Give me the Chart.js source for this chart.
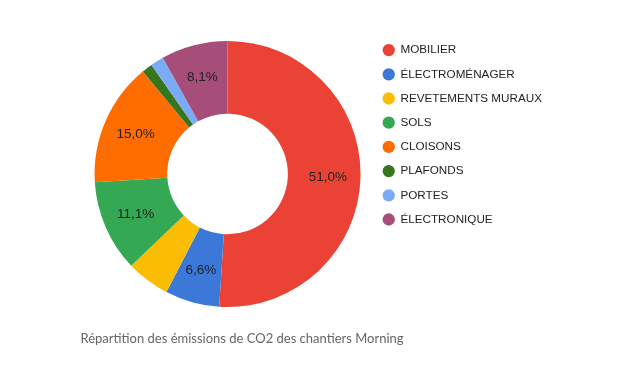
<!DOCTYPE html>
<html>
<head>
<meta charset="utf-8">
<script src="https://cdn.jsdelivr.net/npm/chart.js@4/dist/chart.umd.min.js"></script>
<style>
html, body { margin: 0; padding: 0; background: #fff; }
#wrap { position: relative; width: 628px; height: 368px; }
#chartTitle {
  position: absolute; left: 80.5px; top: 330px;
  font: 13px/16px Lato, sans-serif; color: #666; white-space: nowrap;
}
</style>
</head>
<body>
<div id="wrap">
  <canvas id="co2Chart" width="628" height="368"></canvas>
  <div id="chartTitle"></div>
</div>
<script>
const categories = ["MOBILIER", "ÉLECTROMÉNAGER", "REVETEMENTS MURAUX", "SOLS", "CLOISONS", "PLAFONDS", "PORTES", "ÉLECTRONIQUE"];
const shares = [51.0, 6.6, 5.3, 11.1, 15.0, 1.3, 1.6, 8.1];
const sliceColors = ["#ea4335", "#3c78d8", "#fbbc04", "#34a853", "#ff6d01", "#38761d", "#7baaf7", "#a64d79"];
const chartTitle = "Répartition des émissions de CO2 des chantiers Morning";

document.getElementById("chartTitle").textContent = chartTitle;

// percent text inside the bigger slices only
const sliceLabels = {
  id: "sliceLabels",
  afterDatasetsDraw(chart) {
    const ctx = chart.ctx;
    const meta = chart.getDatasetMeta(0);
    ctx.save();
    ctx.font = "13.5px 'Liberation Sans', Arial, sans-serif";
    ctx.fillStyle = "#222";
    ctx.textAlign = "center";
    ctx.textBaseline = "middle";
    meta.data.forEach((arc, i) => {
      const v = shares[i];
      if (v < 6) return;
      const a = arc.getProps(["x", "y", "startAngle", "endAngle", "innerRadius", "outerRadius"]);
      const mid = (a.startAngle + a.endAngle) / 2;
      const r = a.innerRadius + (a.outerRadius - a.innerRadius) * 0.55;
      ctx.fillText(v.toFixed(1).replace(".", ",") + "%", a.x + Math.cos(mid) * r, a.y + Math.sin(mid) * r);
    });
    ctx.restore();
  }
};

const ctx = document.getElementById("co2Chart").getContext("2d");

new Chart(ctx, {
  type: "doughnut",
  data: {
    labels: categories,
    datasets: [{
      data: shares,
      backgroundColor: sliceColors,
      borderWidth: 0,
      radius: 133,
      cutout: 64.5
    }]
  },
  options: {
    responsive: false,
    animation: false,
    layout: {
      padding: { left: 84.75, right: 76, top: 31.75, bottom: 51.75 }
    },
    plugins: {
      legend: {
        position: "right",
        align: "start",
        labels: {
          usePointStyle: true,
          pointStyle: "circle",
          boxWidth: 12,
          boxHeight: 8.7,
          padding: 12.5,
          color: "#222",
          font: { family: "'Liberation Sans', Arial, sans-serif", size: 11.7 }
        }
      },
      title: { display: false },
      tooltip: { enabled: false }
    }
  },
  plugins: [sliceLabels]
});
</script>
</body>
</html>
